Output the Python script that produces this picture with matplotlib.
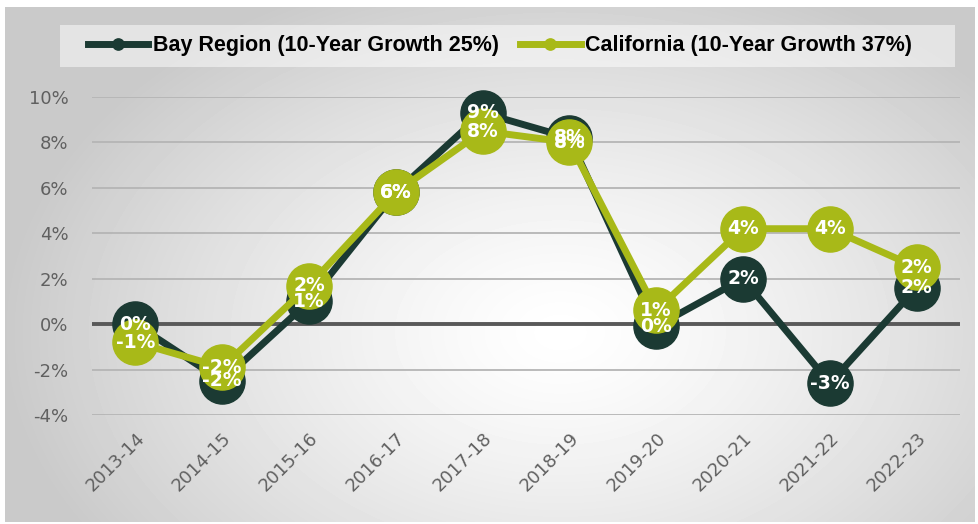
import matplotlib.pyplot as plt
import numpy as np
from matplotlib.patches import Rectangle

years = ["2013-14", "2014-15", "2015-16", "2016-17", "2017-18",
         "2018-19", "2019-20", "2020-21", "2021-22", "2022-23"]
bay = [0.0, -2.5, 1.0, 5.8, 9.3, 8.2, -0.1, 2.0, -2.6, 1.6]
california = [-0.8, -1.9, 1.7, 5.8, 8.5, 8.0, 0.6, 4.2, 4.2, 2.5]
bay_labels = ["0%", "-2%", "1%", "6%", "9%", "8%", "0%", "2%", "-3%", "2%"]
ca_labels = ["-1%", "-2%", "2%", "6%", "8%", "8%", "1%", "4%", "4%", "2%"]
yticks = [-4, -2, 0, 2, 4, 6, 8, 10]

BAY = "#1b3a33"
CA = "#a8b918"

plt.rcParams['font.family'] = ['DejaVu Sans']
fig = plt.figure(figsize=(9.79, 5.24), dpi=100)

# radial gradient background inside a thin white border
bg = fig.add_axes([5 / 979, 2 / 524, 970 / 979, 515 / 524], zorder=-10)
yy, xx = np.mgrid[0:515, 0:970]
r = np.sqrt(((xx - 555) / 560.0) ** 2 + ((yy - 325) / 380.0) ** 2)
shade = 1.0 - 0.21 * np.clip(r, 0, 1) ** 1.3
bg.imshow(shade, cmap='gray', vmin=0, vmax=1, aspect='auto',
          extent=[0, 1, 0, 1], origin='upper')
bg.set_xlim(0, 1)
bg.set_ylim(0, 1)
bg.axis('off')

ax = fig.add_axes([92 / 979, 0.208, 868 / 979, 0.607])
ax.set_facecolor('none')
x = np.arange(len(years))

for y in yticks:
    if y == 0:
        ax.axhline(y, color='#595959', lw=2.8, zorder=1)
    else:
        ax.axhline(y, color='#b5b5b5', lw=1.3, zorder=1)

ax.plot(x, bay, color=BAY, lw=5, marker='o', markersize=32.5,
        label="Bay Region (10-Year Growth 25%)", zorder=3, clip_on=False)
ax.plot(x, california, color=CA, lw=5, marker='o', markersize=32.5,
        label="California (10-Year Growth 37%)", zorder=4, clip_on=False)

for i in range(len(years)):
    ax.text(x[i], bay[i], bay_labels[i], color='white', fontsize=13.5,
            fontweight='bold', ha='center', va='center', zorder=5)
    ax.text(x[i], california[i], ca_labels[i], color='white', fontsize=13.5,
            fontweight='bold', ha='center', va='center', zorder=6)

ax.set_xlim(-0.5, len(years) - 0.5)
ax.set_ylim(-4, 10)
ax.set_yticks(yticks)
ax.set_yticklabels([str(v) + "%" for v in yticks])
ax.set_xticks(x)
ax.set_xticklabels(years, rotation=45, ha='right', rotation_mode='anchor')
ax.tick_params(axis='both', length=0, labelsize=13, colors='#606060')
ax.tick_params(axis='x', pad=10)
ax.tick_params(axis='y', pad=17)
for s in ax.spines.values():
    s.set_visible(False)

# legend band
fig.patches.append(Rectangle((60 / 979, 1 - 67 / 524), 895 / 979, 42 / 524,
                             transform=fig.transFigure, facecolor='white',
                             alpha=0.5, edgecolor='none', zorder=0))
h, l = ax.get_legend_handles_labels()
leg = fig.legend(h, l, loc='center', bbox_to_anchor=(500 / 979, 1 - 46 / 524),
                 ncol=2, frameon=False, handlelength=2.8,
                 columnspacing=1.0, handletextpad=0.2, markerscale=0.25,
                 prop={'family': ['Liberation Sans', 'DejaVu Sans'],
                       'weight': 'bold', 'size': 15.5})
for t in leg.get_texts():
    t.set_color('black')

plt.savefig("out.png", dpi=100)
